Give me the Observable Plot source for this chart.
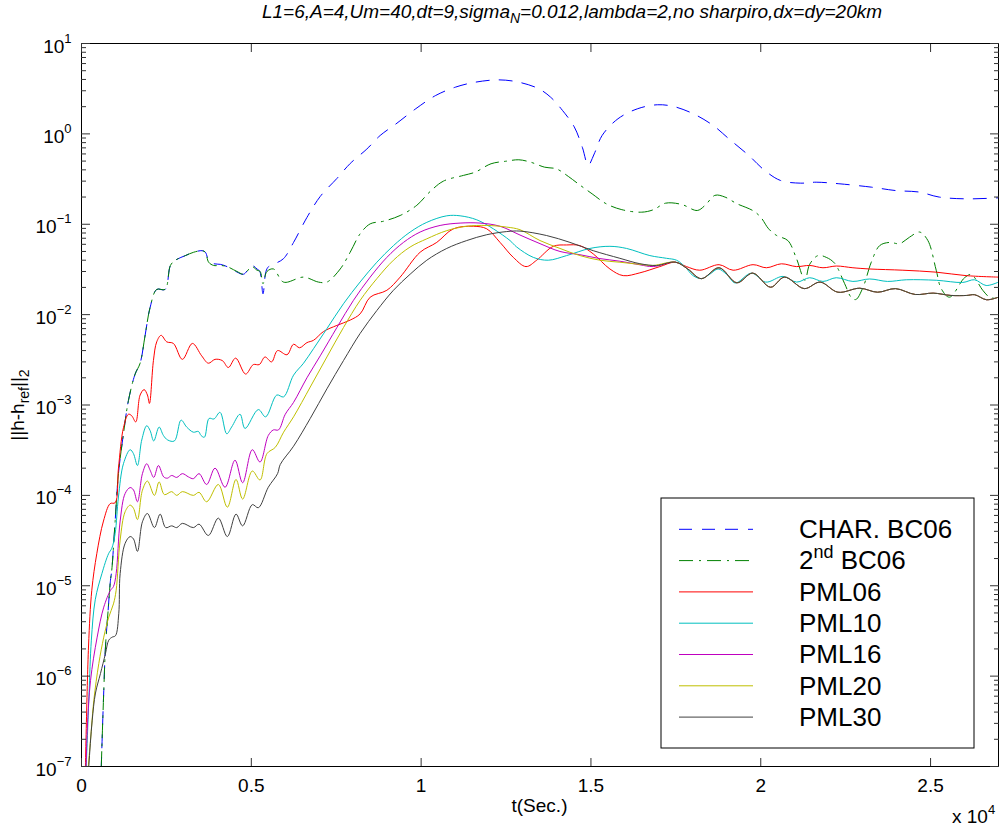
<!DOCTYPE html>
<html><head><meta charset="utf-8">
<script src="https://cdn.jsdelivr.net/npm/d3@7"></script>
<script src="https://cdn.jsdelivr.net/npm/@observablehq/plot@0.6"></script>
<style>
body{margin:0;background:#fff;font-family:"Liberation Sans",Arial,Helvetica,sans-serif;}
#title{position:relative;height:30px;width:1002px;}
#tt{position:absolute;left:572px;top:1px;line-height:22px;font-style:italic;font-size:19px;white-space:nowrap;transform-origin:50% 50%;}
#tt sub{font-size:14px;vertical-align:-5px;line-height:0;}
#chart svg{display:block;}
</style></head><body>
<div id="title"><span id="tt">L1=6,A=4,Um=40,dt=9,sigma<sub>N</sub>=0.012,lambda=2,no sharpiro,dx=dy=20km</span></div>
<div id="chart"></div>
<script>
// ---- axis ticks ----
const xTicks = [0, 5000, 10000, 15000, 20000, 25000];
const yExponents = [-7, -6, -5, -4, -3, -2, -1, 0, 1];
const minorMultipliers = [2, 3, 4, 5, 6, 7, 8, 9];

// ---- series (t in s, ||h-h_ref||_2) ----
const earlyBC = [[560,5e-8],[597,1.5e-7],[656,6.9e-7],[706,2.1e-6],[785,5.4e-6],[853,1.15e-5],[891,1.48e-5],[991,5.2e-5],[1088,1.74e-4],[1235,4.8e-4],[1382,1.12e-3],[1579,2.2e-3],[1726,2.9e-3],[1873,5.9e-3],[2020,1.2e-2],[2215,1.9e-2],[2462,1.9e-2],[2618,3.5e-2],[2765,4.0e-2],[3059,4.5e-2],[3303,4.9e-2],[3550,5.1e-2],[3647,4.9e-2]];

const charTail = [[3744,0.040],[3891,0.0366],[4088,0.036],[4285,0.034],[4579,0.0296],[4773,0.028],[5020,0.035],[5167,0.032],[5250,0.030],[5344,0.017],[5430,0.030],[5509,0.034],[5706,0.0368],[5950,0.0417],[6244,0.063],[6638,0.119],[7029,0.203],[7520,0.321],[7911,0.47],[8402,0.68],[8794,0.96],[9261,1.29],[9844,1.9],[10429,2.66],[11012,3.29],[11594,3.73],[12294,3.96],[12880,3.73],[13461,3.16],[13811,2.55],[14161,1.82],[14511,1.19],[14747,0.71],[14920,0.45],[15096,0.60],[15329,0.96],[15796,1.47],[16379,1.9],[16964,2.1],[17431,2.01],[18014,1.67],[18597,1.24],[19064,0.88],[19647,0.577],[20115,0.394],[20582,0.305],[21164,0.285],[21632,0.292],[22332,0.28],[23268,0.257],[23967,0.236],[24667,0.227],[25249,0.20],[26067,0.191],[27000,0.196]];

const secondTail = [[3744,0.038],[3891,0.035],[4088,0.035],[4285,0.034],[4579,0.030],[4773,0.028],[5020,0.034],[5167,0.031],[5260,0.030],[5344,0.022],[5460,0.030],[5655,0.032],[5950,0.0229],[6538,0.026],[6979,0.0229],[7226,0.0229],[7618,0.032],[7911,0.049],[8205,0.0785],[8500,0.101],[8891,0.108],[9382,0.125],[9872,0.162],[10264,0.23],[10656,0.30],[11244,0.347],[11591,0.377],[12059,0.467],[12529,0.50],[12876,0.517],[13226,0.486],[13637,0.428],[13985,0.41],[14335,0.338],[14626,0.28],[15035,0.217],[15444,0.169],[15909,0.145],[16494,0.136],[16844,0.145],[17194,0.171],[17662,0.166],[18130,0.142],[18362,0.162],[18653,0.209],[18944,0.20],[19294,0.169],[19762,0.142],[19997,0.12],[20232,0.089],[20470,0.075],[20797,0.066],[21049,0.042],[21300,0.024],[21440,0.036],[21685,0.045],[21930,0.043],[22175,0.037],[22470,0.022],[22665,0.0155],[22800,0.0147],[23010,0.020],[23254,0.038],[23500,0.058],[23794,0.063],[24088,0.061],[24382,0.072],[24676,0.082],[24921,0.066],[25166,0.031],[25313,0.0194],[25558,0.0156],[26000,0.0256],[26197,0.0277],[26537,0.0186],[26735,0.0156],[27000,0.015]];

const pml06 = [[100,5e-8],[206,2.1e-6],[303,8.9e-6],[450,2.26e-5],[647,5.2e-5],[844,8.1e-5],[991,8.3e-5],[1088,2.0e-4],[1235,5.6e-4],[1382,7.9e-4],[1479,7.6e-4],[1597,6.5e-4],[1726,1.29e-3],[1844,1.48e-3],[1941,1.29e-3],[2000,1.04e-3],[2118,3.1e-3],[2215,5.0e-3],[2344,5.9e-3],[2509,5.0e-3],[2706,4.8e-3],[2970,3.2e-3],[3265,4.8e-3],[3538,3.5e-3],[3735,2.9e-3],[3932,3.2e-3],[4147,3.1e-3],[4324,2.6e-3],[4538,3.3e-3],[4832,2.2e-3],[5059,2.8e-3],[5235,2.8e-3],[5403,3.4e-3],[5597,3.0e-3],[5773,4.0e-3],[6050,3.6e-3],[6244,4.7e-3],[6420,4.3e-3],[6638,4.9e-3],[6832,5.2e-3],[7126,6.5e-3],[7520,7.6e-3],[7911,8.7e-3],[8205,1.02e-2],[8500,1.56e-2],[8991,1.86e-2],[9382,2.6e-2],[9970,4.9e-2],[10461,6.3e-2],[10950,8.9e-2],[11538,9.5e-2],[11932,8.9e-2],[12323,6.3e-2],[12714,4.3e-2],[13088,3.4e-2],[13402,4.0e-2],[13891,5.7e-2],[14285,5.9e-2],[14676,5.8e-2],[15067,4.7e-2],[15558,3.2e-2],[15950,2.7e-2],[16441,2.9e-2],[17029,3.4e-2],[17470,3.8e-2],[17814,3.4e-2],[18205,3.1e-2],[18773,3.57e-2],[19185,3.1e-2],[19773,3.57e-2],[20167,3.3e-2],[20608,3.65e-2],[21049,3.4e-2],[21440,3.5e-2],[21832,3.3e-2],[22225,3.45e-2],[22713,3.3e-2],[23205,3.2e-2],[24184,3.1e-2],[25166,2.95e-2],[26048,2.7e-2],[27000,2.6e-2]];

const pml10 = [[110,5e-8],[220,6e-7],[290,2.5e-6],[405,7e-6],[600,1.36e-5],[796,2.26e-5],[893,2.6e-5],[991,3.8e-5],[1088,9.6e-5],[1235,2.24e-4],[1432,3.2e-4],[1529,2.9e-4],[1647,2.14e-4],[1774,4.1e-4],[1921,5.9e-4],[2021,5.2e-4],[2127,4.0e-4],[2285,5.7e-4],[2412,4.6e-4],[2538,4.1e-4],[2735,4.0e-4],[2932,6.8e-4],[3097,5.7e-4],[3294,5.0e-4],[3441,5.1e-4],[3520,4.6e-4],[3618,4.4e-4],[3756,7.1e-4],[3900,7.0e-4],[4079,8.3e-4],[4276,4.8e-4],[4420,5.7e-4],[4668,7.9e-4],[4815,5.5e-4],[5206,8.9e-4],[5421,7.4e-4],[5750,1.29e-3],[5950,1.23e-3],[6244,2.14e-3],[6538,2.9e-3],[6832,4.2e-3],[7226,7.0e-3],[7714,1.32e-2],[8205,2.3e-2],[8696,3.8e-2],[9185,5.8e-2],[9676,8.2e-2],[10167,0.105],[10755,0.124],[11147,0.124],[11638,0.112],[12126,0.089],[12617,0.066],[12814,0.056],[13303,0.043],[13744,0.040],[14283,0.045],[14971,0.054],[15559,0.057],[16047,0.054],[16735,0.045],[17224,0.042],[17520,0.040],[17764,0.034],[18008,0.027],[18255,0.025],[18499,0.028],[18743,0.032],[18990,0.028],[19250,0.0224],[19726,0.0288],[20146,0.0229],[20655,0.0265],[21058,0.0229],[21440,0.0256],[21832,0.0233],[22225,0.0256],[22713,0.0233],[23205,0.0248],[23734,0.0233],[24284,0.0243],[25166,0.024],[25949,0.0227],[26293,0.0243],[26637,0.021],[27000,0.0229]];

const pml16Head = [[120,5e-8],[168,2.5e-7],[265,8.9e-7],[461,2.7e-6],[656,5.8e-6],[853,8.9e-6],[941,9.8e-6],[1020,1.36e-5],[1138,5.2e-5],[1285,1.05e-4],[1432,1.22e-4],[1530,1.15e-4],[1647,8.5e-5],[1794,1.74e-4],[1921,2.24e-4],[2020,1.9e-4],[2127,1.58e-4],[2265,2.14e-4],[2421,1.6e-4],[2530,1.55e-4],[2656,1.66e-4],[2803,1.58e-4],[2970,1.74e-4],[3150,1.6e-4],[3294,1.53e-4],[3461,1.74e-4],[3685,1.32e-4],[3932,2.0e-4],[4226,1.23e-4],[4520,2.45e-4],[4744,1.38e-4],[5029,3.2e-4],[5256,2.34e-4],[5500,4.6e-4],[5650,5.3e-4],[5800,5.3e-4],[6000,7.9e-4],[6244,1.07e-3],[6638,2.0e-3],[7029,3.5e-3],[7520,7.2e-3],[8008,1.44e-2],[8500,2.6e-2],[8991,4.3e-2],[9481,6.3e-2],[9970,8.2e-2],[10559,0.097],[11147,0.103],[11735,0.103],[12323,0.095],[12911,0.076],[13500,0.061],[14088,0.050],[14676,0.046],[15264,0.0417],[15852,0.039],[16441,0.0356],[16832,0.034]];

const pml20Head = [[130,5e-8],[265,1.95e-7],[363,5.4e-7],[510,1.38e-6],[656,2.7e-6],[803,4.5e-6],[941,6.3e-6],[1020,8.9e-6],[1138,3.2e-5],[1285,6.6e-5],[1432,7.8e-5],[1530,7.2e-5],[1647,5.4e-5],[1794,1.14e-4],[1941,1.44e-4],[2147,1.0e-4],[2285,1.41e-4],[2441,1.02e-4],[2656,1.1e-4],[2803,1.0e-4],[2970,1.1e-4],[3294,1.0e-4],[3461,1.08e-4],[3685,8.5e-5],[4029,1.32e-4],[4294,7.4e-5],[4550,1.5e-4],[4744,9.1e-5],[5029,1.86e-4],[5256,1.48e-4],[5461,2.9e-4],[5706,3.4e-4],[5950,5.0e-4],[6244,7.4e-4],[6735,1.58e-3],[7226,3.4e-3],[7714,7.2e-3],[8205,1.44e-2],[8696,2.5e-2],[9185,0.040],[9676,0.056],[10167,0.069],[10755,0.085],[11343,0.095],[11932,0.097],[12520,0.093],[12911,0.087],[13500,0.066],[14088,0.054],[14676,0.045],[15264,0.040],[15852,0.038],[16441,0.036],[16832,0.035]];

const pml30Head = [[170,5e-8],[215,1e-7],[314,3.2e-7],[412,6.5e-7],[559,1.07e-6],[706,1.78e-6],[803,2.5e-6],[903,2.7e-6],[1000,2.8e-6],[1097,4.9e-6],[1138,1.36e-5],[1285,2.95e-5],[1432,3.5e-5],[1530,3.3e-5],[1647,2.4e-5],[1794,5.1e-5],[1941,6.3e-5],[2147,4.4e-5],[2315,6.2e-5],[2480,4.4e-5],[2656,4.6e-5],[2803,4.4e-5],[2970,4.9e-5],[3294,4.4e-5],[3461,4.8e-5],[3735,3.6e-5],[4029,5.6e-5],[4294,3.5e-5],[4550,6.2e-5],[4744,4.6e-5],[5029,7.9e-5],[5206,7.3e-5],[5500,1.23e-4],[5773,1.74e-4],[5853,2.2e-4],[6244,3.5e-4],[6735,7.1e-4],[7226,1.51e-3],[7714,3.1e-3],[8205,6.2e-3],[8696,1.11e-2],[9185,1.86e-2],[9676,2.8e-2],[10167,0.040],[10755,0.054],[11343,0.066],[11932,0.0766],[12520,0.083],[12911,0.084],[13695,0.075],[14382,0.063],[15067,0.051],[15852,0.042],[16441,0.0366],[16932,0.035]];

const pmlTail = [[17488,0.0381],[17850,0.032],[18250,0.025],[18772,0.033],[19296,0.0225],[19764,0.0288],[20290,0.0201],[20699,0.026],[21281,0.0194],[21749,0.0229],[22272,0.0177],[22916,0.0196],[23440,0.0177],[23967,0.0194],[24549,0.0167],[25075,0.0173],[25599,0.0163],[26066,0.0163],[26299,0.0166],[26649,0.0146],[27000,0.0156]];

const seriesNames = ["CHAR. BC06", "2nd BC06", "PML06", "PML10", "PML16", "PML20", "PML30"];
const seriesColors = ["#0000ff", "#008000", "#ff0000", "#00bfbf", "#bf00bf", "#bfbf00", "#404040"];
const seriesDash = ["13,10", "14,6,2,6", null, null, null, null, null];
const seriesData = [
  earlyBC.concat(charTail),
  earlyBC.concat(secondTail),
  pml06,
  pml10,
  pml16Head.concat(pmlTail),
  pml20Head.concat(pmlTail),
  pml30Head.concat(pmlTail)
];

const yMajor = yExponents.map(e => Math.pow(10, e));
const yMinor = yExponents.slice(0, -1).flatMap(e => minorMultipliers.map(m => m * Math.pow(10, e)));

const lineMarks = seriesData.map((data, i) => Plot.line(data, {
  x: d => d[0], y: d => d[1],
  stroke: seriesColors[i], strokeWidth: 1,
  strokeDasharray: seriesDash[i] || undefined,
  curve: "catmull-rom", clip: true
}));

const chart = Plot.plot({
  width: 1002, height: 804,
  marginLeft: 81, marginRight: 4, marginTop: 13, marginBottom: 68,
  style: {fontFamily: "'Liberation Sans', Arial, Helvetica, sans-serif", fontSize: "19px", background: "#fff", color: "#000"},
  x: {domain: [0, 27000]},
  y: {type: "log", domain: [1e-7, 10]},
  marks: [
    ...lineMarks,
    Plot.frame({stroke: "#000", strokeWidth: 1}),
    Plot.axisX({anchor: "bottom", ticks: xTicks, tickSize: -8, tickPadding: 20, tickFormat: d => String(d / 1e4), label: null, stroke: "#333", fontSize: 19}),
    Plot.axisX({anchor: "top", ticks: xTicks, tickSize: -8, tickFormat: () => "", label: null, stroke: "#333"}),
    Plot.axisY({anchor: "left", ticks: yMajor, tickSize: -9, tickPadding: 19, tickFormat: d => "E" + Math.round(Math.log10(d)), label: null, stroke: "#333", fontSize: 19}),
    Plot.axisY({anchor: "left", ticks: yMinor, tickSize: -5, tickFormat: () => "", label: null, stroke: "#333"}),
    Plot.axisY({anchor: "right", ticks: yMajor, tickSize: -9, tickFormat: () => "", label: null, stroke: "#333"}),
    Plot.axisY({anchor: "right", ticks: yMinor, tickSize: -5, tickFormat: () => "", label: null, stroke: "#333"})
  ]
});
document.getElementById("chart").appendChild(chart);

const svg = d3.select(chart);

// superscripted y tick labels 10^k
svg.selectAll("text").each(function() {
  const s = this.textContent;
  const m = /^E(-?\d+)$/.exec(s);
  if (!m) return;
  const el = d3.select(this);
  el.text("");
  el.append("tspan").attr("dy", "3").text("10");
  el.append("tspan").attr("dy", "-10").attr("font-size", 13).text(m[1].replace("-", "\u2212"));
});

const font = "'Liberation Sans', Arial, Helvetica, sans-serif";

// x label
svg.append("text").attr("x", 539.5).attr("y", 782).attr("text-anchor", "middle")
  .attr("font-family", font).attr("font-size", 19).text("t(Sec.)");
// x 10^4
const xe = svg.append("text").attr("x", 952).attr("y", 793).attr("text-anchor", "start")
  .attr("font-family", font).attr("font-size", 19);
xe.append("tspan").text("x 10");
xe.append("tspan").attr("dy", -9).attr("font-size", 13).text("4");

// y label
const yl = svg.append("text").attr("transform", "translate(24,375) rotate(-90)")
  .attr("text-anchor", "middle").attr("font-family", font).attr("font-size", 19);
yl.append("tspan").text("||h-h");
yl.append("tspan").attr("dy", 5).attr("font-size", 14).text("ref");
yl.append("tspan").attr("dy", -5).text("||");
yl.append("tspan").attr("dy", 5).attr("font-size", 14).text("2");

// legend
const lg = svg.append("g").attr("font-family", font).attr("text-anchor", "start");
lg.append("rect").attr("x", 661).attr("y", 468).attr("width", 313).attr("height", 250)
  .attr("fill", "#fff").attr("stroke", "#000").attr("stroke-width", 1);
seriesNames.forEach((name, i) => {
  const yy = 499.3 + i * 31.3;
  const ln = lg.append("line").attr("x1", 679).attr("x2", 753).attr("y1", yy).attr("y2", yy)
    .attr("stroke", seriesColors[i]).attr("stroke-width", 1);
  if (seriesDash[i]) ln.attr("stroke-dasharray", seriesDash[i]);
  const t = lg.append("text").attr("x", 799).attr("y", yy + 8.7).attr("font-size", 26).attr("text-anchor", "start");
  if (name.startsWith("2nd")) {
    t.append("tspan").text("2");
    t.append("tspan").attr("dy", -11).attr("font-size", 18).text("nd");
    t.append("tspan").attr("dy", 11).attr("font-size", 26).text(" BC06");
  } else {
    t.text(name);
  }
});

// fit title width to reference
const tt = document.getElementById("tt");
const w = tt.getBoundingClientRect().width;
tt.style.transform = "translateX(-50%) scaleX(" + (620 / w) + ")";
</script>
</body></html>
